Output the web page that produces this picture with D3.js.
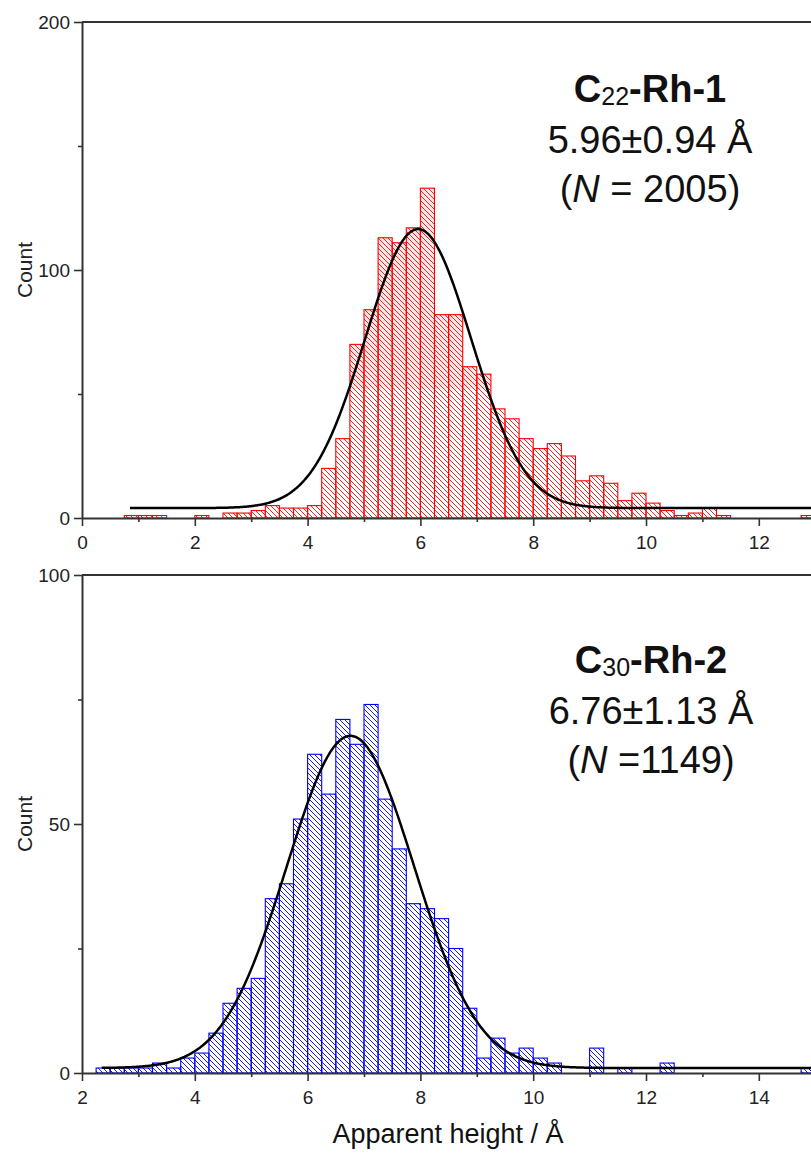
<!DOCTYPE html>
<html>
<head>
<meta charset="utf-8">
<script src="https://cdn.jsdelivr.net/npm/d3@7"></script>
<style>
  html, body { margin: 0; padding: 0; background: #fff; }
  svg { display: block; font-family: "Liberation Sans", Arial, Helvetica, sans-serif; }
</style>
</head>
<body>
<svg id="chart" width="811" height="1153"></svg>
<script>
// Apparent-height histograms (0.25 Å bins) with Gaussian fits.
// Counts.

const BIN_WIDTH = 0.25;

const rh1BinStarts = [0.75, 1.0, 1.25, 2.0, 2.5, 2.75, 3.0, 3.25, 3.5, 3.75,
  4.0, 4.25, 4.5, 4.75, 5.0, 5.25, 5.5, 5.75, 6.0, 6.25, 6.5, 6.75, 7.0, 7.25,
  7.5, 7.75, 8.0, 8.25, 8.5, 8.75, 9.0, 9.25, 9.5, 9.75, 10.0, 10.25, 10.5,
  10.75, 11.0, 11.25, 12.75];
const rh1Counts = [1, 1, 1, 1, 2, 2, 3, 5, 4, 4,
  5, 20, 32, 70, 84, 113, 111, 117, 133, 82, 82, 61, 58, 44,
  40, 32, 28, 30, 25, 15, 17, 14, 7, 10, 6, 3, 1,
  2, 4, 1, 1];

const rh2BinStarts = [2.25, 2.5, 2.75, 3.0, 3.25, 3.5, 3.75, 4.0, 4.25, 4.5,
  4.75, 5.0, 5.25, 5.5, 5.75, 6.0, 6.25, 6.5, 6.75, 7.0, 7.25, 7.5, 7.75, 8.0,
  8.25, 8.5, 8.75, 9.0, 9.25, 9.5, 9.75, 10.0, 10.25, 11.0, 11.5, 12.25, 14.75];
const rh2Counts = [1, 1, 1, 1, 2, 1, 3, 4, 8, 14,
  17, 19, 35, 38, 51, 64, 56, 71, 66, 74, 55, 45, 34, 33,
  31, 25, 13, 3, 7, 4, 5, 3, 2, 5, 1, 2, 1];

// Gaussian fit parameters: baseline, amplitude, centre, sigma, first x drawn
const rh1Fit = { y0: 4, amp: 112.5, xc: 5.96, sigma: 0.94, from: 0.85 };
const rh2Fit = { y0: 1, amp: 66.7, xc: 6.76, sigma: 1.13, from: 2.35 };

const rh1XTicks = [0, 2, 4, 6, 8, 10, 12];
const rh1XMinor = [1, 3, 5, 7, 9, 11];
const rh1YTicks = [0, 100, 200];
const rh1YMinor = [50, 150];

const rh2XTicks = [2, 4, 6, 8, 10, 12, 14];
const rh2XMinor = [3, 5, 7, 9, 11, 13];
const rh2YTicks = [0, 50, 100];
const rh2YMinor = [25, 75];

const PLOT_LEFT = 82;
const PX_PER_UNIT = 56.4;

const svg = d3.select("#chart");
const defs = svg.append("defs");

function addHatch(id, color) {
  const s = 5;
  defs.append("pattern")
    .attr("id", id)
    .attr("patternUnits", "userSpaceOnUse")
    .attr("width", s)
    .attr("height", s)
    .append("path")
    .attr("d", `M${-s / 2},${s / 2} L${s / 2},${1.5 * s} M0,0 L${s},${s} M${s / 2},${-s / 2} L${1.5 * s},${s / 2}`)
    .attr("stroke", color)
    .attr("stroke-width", 1)
    .attr("fill", "none");
}
addHatch("hatch-red", "#ff2020");
addHatch("hatch-blue", "#1a1aff");

function gauss(f, x) {
  return f.y0 + f.amp * Math.exp(-((x - f.xc) ** 2) / (2 * f.sigma ** 2));
}

function drawPanel(cfg) {
  const span = cfg.xDomain[1] - cfg.xDomain[0];
  const x = d3.scaleLinear().domain(cfg.xDomain).range([PLOT_LEFT, PLOT_LEFT + span * PX_PER_UNIT]);
  const y = d3.scaleLinear().domain(cfg.yDomain).range([cfg.bottom, cfg.top]);
  const g = svg.append("g");

  const bars = cfg.binStarts.map((b, i) => ({ x0: b, x1: b + BIN_WIDTH, n: cfg.counts[i] }));

  // faint tint on the upper part of the tall bars (as in the scan)
  if (cfg.tintAbove != null) {
    g.selectAll("rect.tint")
      .data(bars.filter((d) => d.n > cfg.tintAbove))
      .join("rect")
      .attr("class", "tint")
      .attr("x", (d) => x(d.x0))
      .attr("width", (d) => x(d.x1) - x(d.x0))
      .attr("y", (d) => y(d.n))
      .attr("height", (d) => y(cfg.tintAbove) - y(d.n))
      .attr("fill", cfg.tint);
  }

  g.selectAll("rect.bar")
    .data(bars)
    .join("rect")
    .attr("class", "bar")
    .attr("x", (d) => x(d.x0))
    .attr("width", (d) => x(d.x1) - x(d.x0))
    .attr("y", (d) => y(d.n))
    .attr("height", (d) => y(0) - y(d.n))
    .attr("fill", `url(#${cfg.hatch})`)
    .attr("stroke", cfg.color)
    .attr("stroke-width", 1.1);

  const xs = d3.range(cfg.fit.from, cfg.xDomain[1], 0.02);
  g.append("path")
    .datum(xs)
    .attr("fill", "none")
    .attr("stroke", "#000")
    .attr("stroke-width", 2.5)
    .attr("d", d3.line().x((d) => x(d)).y((d) => y(gauss(cfg.fit, d))));

  // axes
  const styleAxis = (sel) => {
    sel.select(".domain").attr("stroke", "#333").attr("stroke-width", 2);
    sel.selectAll(".tick line").attr("stroke", "#333").attr("stroke-width", 1.6);
    sel.selectAll(".tick text").attr("fill", "#222").style("font-size", "19px");
  };

  g.append("g")
    .attr("transform", `translate(0,${cfg.bottom})`)
    .call(d3.axisBottom(x).tickValues(cfg.xMinor).tickSize(4).tickFormat(""))
    .call((s) => s.select(".domain").remove())
    .call(styleAxis);
  g.append("g")
    .attr("transform", `translate(${PLOT_LEFT},0)`)
    .call(d3.axisLeft(y).tickValues(cfg.yMinor).tickSize(4).tickFormat(""))
    .call((s) => s.select(".domain").remove())
    .call(styleAxis);

  g.append("g")
    .attr("transform", `translate(0,${cfg.bottom})`)
    .call(d3.axisBottom(x).tickValues(cfg.xTicks).tickSize(8).tickSizeOuter(0).tickPadding(10))
    .call(styleAxis);
  g.append("g")
    .attr("transform", `translate(${PLOT_LEFT},0)`)
    .call(d3.axisLeft(y).tickValues(cfg.yTicks).tickSize(8).tickSizeOuter(0).tickPadding(4))
    .call(styleAxis);

  // top frame line
  g.append("line")
    .attr("x1", PLOT_LEFT)
    .attr("x2", x.range()[1])
    .attr("y1", cfg.top)
    .attr("y2", cfg.top)
    .attr("stroke", "#333")
    .attr("stroke-width", 2);

  g.append("text")
    .attr("transform", `translate(32,${(cfg.top + cfg.bottom) / 2}) rotate(-90)`)
    .attr("text-anchor", "middle")
    .attr("fill", "#222")
    .style("font-size", "21px")
    .text("Count");

  // annotation block
  const ann = g.append("g").attr("fill", "#111").attr("text-anchor", "middle");
  const t1 = ann.append("text")
    .attr("x", cfg.labelX)
    .attr("y", cfg.labelY)
    .style("font-size", "38px")
    .style("font-weight", "bold");
  t1.append("tspan").text("C");
  t1.append("tspan").attr("dy", 3).style("font-size", "25px").style("font-weight", "normal").text(cfg.sub);
  t1.append("tspan").attr("dy", -3).text(cfg.name);

  ann.append("text")
    .attr("x", cfg.labelX)
    .attr("y", cfg.labelY + 51)
    .style("font-size", "38px")
    .text(cfg.stat);

  const t3 = ann.append("text")
    .attr("x", cfg.labelX)
    .attr("y", cfg.labelY + 100)
    .style("font-size", "38px");
  t3.append("tspan").text("(");
  t3.append("tspan").style("font-style", "italic").text("N");
  t3.append("tspan").text(cfg.nText);
}

drawPanel({
  binStarts: rh1BinStarts,
  counts: rh1Counts,
  fit: rh1Fit,
  xDomain: [0, 14],
  yDomain: [0, 200],
  xTicks: rh1XTicks,
  xMinor: rh1XMinor,
  yTicks: rh1YTicks,
  yMinor: rh1YMinor,
  top: 22,
  bottom: 518,
  color: "#ff0000",
  hatch: "hatch-red",
  tintAbove: 52,
  tint: "#fce6e6",
  labelX: 650,
  labelY: 102,
  sub: "22",
  name: "-Rh-1",
  stat: "5.96±0.94 Å",
  nText: " = 2005)",
});

drawPanel({
  binStarts: rh2BinStarts,
  counts: rh2Counts,
  fit: rh2Fit,
  xDomain: [2, 16],
  yDomain: [0, 100],
  xTicks: rh2XTicks,
  xMinor: rh2XMinor,
  yTicks: rh2YTicks,
  yMinor: rh2YMinor,
  top: 575,
  bottom: 1073,
  color: "#0000ff",
  hatch: "hatch-blue",
  tintAbove: null,
  labelX: 651,
  labelY: 673,
  sub: "30",
  name: "-Rh-2",
  stat: "6.76±1.13 Å",
  nText: " =1149)",
});

svg.append("text")
  .attr("x", 448)
  .attr("y", 1143)
  .attr("text-anchor", "middle")
  .attr("fill", "#111")
  .style("font-size", "27px")
  .text("Apparent height / Å");
</script>
</body>
</html>
